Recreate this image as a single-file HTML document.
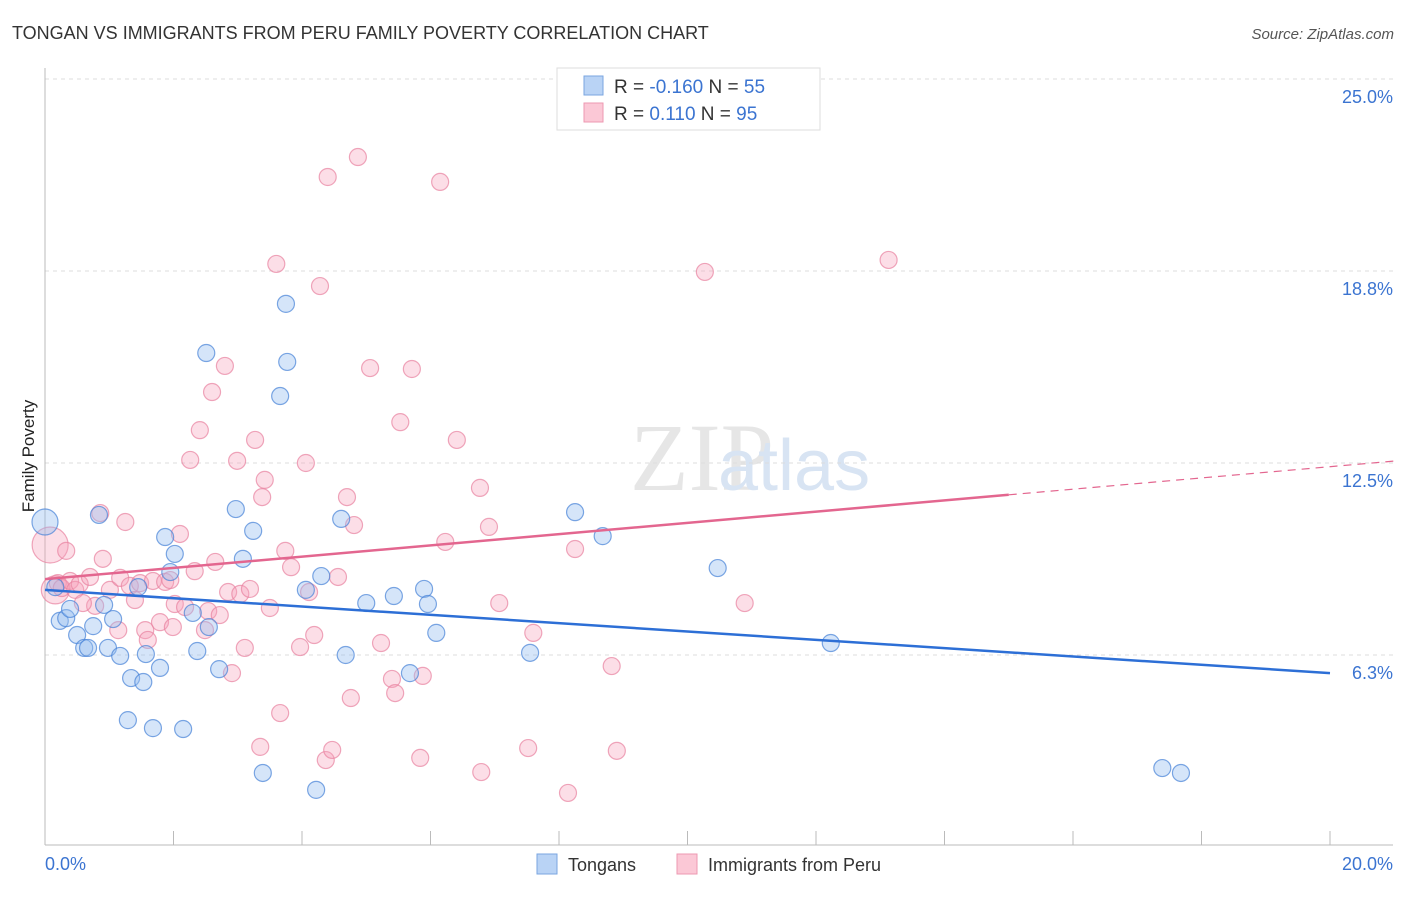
<!DOCTYPE html>
<html><head><meta charset="utf-8"><style>
body{margin:0;background:#fff;font-family:"Liberation Sans",sans-serif}
</style></head><body>
<svg id="c" width="1406" height="892" xmlns="http://www.w3.org/2000/svg" style="font-family:'Liberation Sans',sans-serif">
<text x="12" y="39" font-size="18" fill="#333">TONGAN VS IMMIGRANTS FROM PERU FAMILY POVERTY CORRELATION CHART</text>
<text x="1394" y="39" font-size="15" fill="#555" font-style="italic" text-anchor="end">Source: ZipAtlas.com</text>
<text x="630" y="490" font-size="96" fill="#e6e6e6" font-family="Liberation Serif">ZIP</text>
<text x="718" y="490" font-size="72" fill="#d8e4f3">atlas</text>
<text x="34" y="456" font-size="17" fill="#222" text-anchor="middle" transform="rotate(-90 34 456)">Family Poverty</text>
<g id="grid"></g><g id="pts"></g><g id="trends"></g>
<g>
<rect x="557" y="68" width="263" height="62" fill="#fff" stroke="#ddd"/>
<rect x="584" y="76" width="19" height="19" fill="#b9d3f5" stroke="#7aa6e0"/>
<rect x="584" y="103" width="19" height="19" fill="#fbc8d6" stroke="#ee98b1"/>
<text x="614" y="93" font-size="19" fill="#333">R = <tspan fill="#3b74d1">-0.160</tspan>   N = <tspan fill="#3b74d1">55</tspan></text>
<text x="614" y="120" font-size="19" fill="#333">R =   <tspan fill="#3b74d1">0.110</tspan>   N = <tspan fill="#3b74d1">95</tspan></text>
</g>
<g>
<rect x="537" y="854" width="20" height="20" fill="#b9d3f5" stroke="#7aa6e0"/>
<text x="568" y="871" font-size="18" fill="#333">Tongans</text>
<rect x="677" y="854" width="20" height="20" fill="#fbc8d6" stroke="#ee98b1"/>
<text x="708" y="871" font-size="18" fill="#333">Immigrants from Peru</text>
</g>
</svg>
<script>
const blueX=[0,0.16,0.23,0.33,0.39,0.5,0.61,0.67,0.75,0.84,0.92,0.98,1.06,1.17,1.29,1.34,1.45,1.53,1.57,1.68,1.79,1.87,1.95,2.02,2.15,2.3,2.37,2.51,2.55,2.71,2.97,3.08,3.24,3.39,3.75,3.77,3.66,4.06,4.22,4.3,4.61,4.68,5.0,5.43,5.68,5.9,5.96,6.09,7.55,8.25,8.68,10.47,12.23,17.39,17.68];
const blueY=[10.58,8.46,7.36,7.45,7.75,6.9,6.48,6.48,7.19,10.81,7.88,6.48,7.42,6.22,4.13,5.5,8.46,5.37,6.28,3.87,5.83,10.09,8.95,9.54,3.84,7.62,6.38,16.08,7.16,5.79,11.0,9.38,10.29,2.41,17.68,15.79,14.68,8.37,1.86,8.82,10.68,6.25,7.94,8.17,5.66,8.4,7.91,6.97,6.32,10.9,10.12,9.08,6.64,2.57,2.41];
const pinkX=[0.08,0.16,0.33,0.2,0.26,0.39,0.47,0.54,0.7,0.78,0.59,0.86,0.9,1.01,1.14,1.17,1.25,1.32,1.4,1.48,1.56,1.6,1.68,1.79,1.87,1.95,1.99,2.02,2.1,2.18,2.26,2.33,2.41,2.49,2.54,2.6,2.65,2.72,2.8,2.85,2.91,2.99,3.04,3.11,3.19,3.27,3.38,3.42,3.5,3.6,3.66,3.74,3.83,3.97,4.06,4.11,4.19,4.28,4.37,4.4,4.47,4.56,4.7,4.76,4.81,4.87,5.06,5.23,5.4,5.45,5.53,5.71,5.84,5.88,6.15,6.23,6.41,6.79,6.77,6.91,7.07,7.52,7.6,8.14,8.25,8.82,8.9,10.27,10.89,13.13,3.35];
const pinkY=[9.83,8.37,9.64,8.59,8.43,8.66,8.37,8.56,8.79,7.85,7.94,10.87,9.38,8.37,7.06,8.76,10.58,8.5,8.04,8.59,7.06,6.74,8.66,7.32,8.63,8.69,7.16,7.91,10.19,7.81,12.6,8.98,13.57,7.06,7.68,14.81,9.28,7.55,15.66,8.3,5.66,12.57,8.24,6.48,8.4,13.25,11.39,11.95,7.78,18.98,4.36,9.64,9.11,6.51,12.5,8.3,6.9,18.26,2.83,21.81,3.16,8.79,11.39,4.85,10.48,22.46,15.59,6.64,5.47,5.01,13.83,15.56,2.9,5.57,21.65,9.93,13.25,2.44,11.69,10.42,7.94,3.22,6.97,1.76,9.7,5.89,3.13,18.72,7.94,19.11,3.26];
const yTicks=[25,18.75,12.5,6.25];
const yTickLabels=["25.0%","18.8%","12.5%","6.3%"];
const blueTrend=[8.37,-0.1355];
const pinkTrend=[8.72,0.183];
const NS="http://www.w3.org/2000/svg";
const X=v=>45+v*64.25, Y=v=>847-v*30.72;
function mk(tag,attrs,parent){const e=document.createElementNS(NS,tag);for(const k in attrs)e.setAttribute(k,attrs[k]);parent.appendChild(e);return e;}
const svg=document.getElementById('c');
const grid=document.getElementById('grid');
yTicks.forEach((t,i)=>{
 const l=mk('line',{x1:45,x2:1393,y1:Y(t),y2:Y(t),stroke:'#ddd','stroke-dasharray':'4,4'},grid);
 
 
 const tx=mk('text',{x:1393,y:Y(t)+24,'font-size':18,fill:'#3b74d1','text-anchor':'end'},grid);
 tx.textContent=yTickLabels[i];
 
 
});
const ax=mk('line',{x1:45,x2:45,y1:68,y2:845,stroke:'#bbb'},grid);


const bx=mk('line',{x1:45,x2:1393,y1:845,y2:845,stroke:'#bbb'},grid);


for(let v=2;v<=20;v+=2){const t=mk('line',{x1:X(v),x2:X(v),y1:831,y2:845,stroke:'#bbb'},grid);
 
 }
const x0=mk('text',{x:45,y:870,'font-size':18,fill:'#3b74d1'},grid);x0.textContent='0.0%';


const x1=mk('text',{x:1393,y:870,'font-size':18,fill:'#3b74d1','text-anchor':'end'},grid);x1.textContent='20.0%';


const pts=document.getElementById('pts');
pinkX.forEach((x,i)=>{const r=i===0?18:(i===1?14:8.5);
 const c=mk('circle',{cx:X(x),cy:Y(pinkY[i]),r:r,fill:'rgba(246,160,185,0.35)',stroke:'rgba(232,130,160,0.7)','stroke-width':1.2},pts);
 
 });
blueX.forEach((x,i)=>{const r=i===0?13:8.5;
 const c=mk('circle',{cx:X(x),cy:Y(blueY[i]),r:r,fill:'rgba(150,190,240,0.4)',stroke:'rgba(70,130,215,0.7)','stroke-width':1.2},pts);
 
 });
const tr=document.getElementById('trends');
const bl=mk('line',{x1:X(0),y1:Y(blueTrend[0]),x2:X(20),y2:Y(blueTrend[0]+blueTrend[1]*20),stroke:'#2d6fd6','stroke-width':2.5},tr);


const pl=mk('line',{x1:X(0),y1:Y(pinkTrend[0]),x2:X(15),y2:Y(pinkTrend[0]+pinkTrend[1]*15),stroke:'#e3668f','stroke-width':2.5},tr);


const pd=mk('line',{x1:X(15),y1:Y(pinkTrend[0]+pinkTrend[1]*15),x2:X(21),y2:Y(pinkTrend[0]+pinkTrend[1]*21),stroke:'#e3668f','stroke-width':1.2,'stroke-dasharray':'8,6'},tr);


</script>
</body></html>
